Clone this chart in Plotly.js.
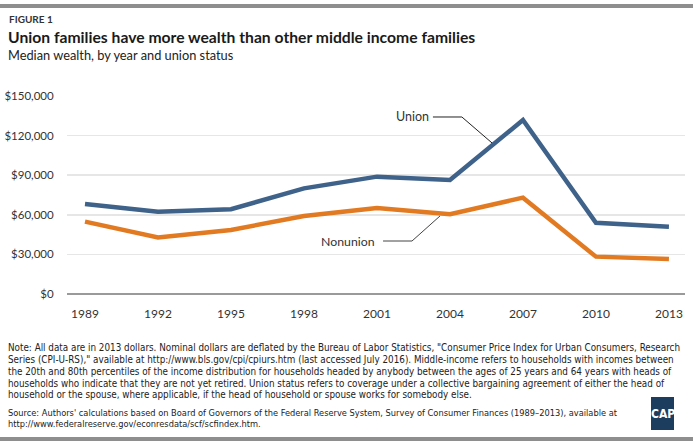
<!DOCTYPE html>
<html>
<head>
<meta charset="utf-8">
<script src="https://cdn.plot.ly/plotly-3.0.1.min.js"></script>
<style>
  html, body { margin: 0; padding: 0; background: #fff; }
  #chart { width: 693px; height: 445px; }
</style>
</head>
<body>
<div id="chart"></div>
<script>
// ---- Data ----
var years = [1989, 1992, 1995, 1998, 2001, 2004, 2007, 2010, 2013];
var unionWealth = [68200, 62400, 64200, 80000, 88900, 86400, 131800, 54000, 51000];
var nonunionWealth = [54800, 42900, 48500, 59100, 65100, 60400, 73000, 28300, 26500];
var yTickVals = [0, 30000, 60000, 90000, 120000, 150000];
var yTickText = ["$0", "$30,000", "$60,000", "$90,000", "$120,000", "$150,000"];
var xTickVals = years;
var xTickText = ["1989", "1992", "1995", "1998", "2001", "2004", "2007", "2010", "2013"];

var figureLabel = "FIGURE 1";
var titleText = "Union families have more wealth than other middle income families";
var subtitleText = "Median wealth, by year and union status";
var noteLines = [
  "Note: All data are in 2013 dollars. Nominal dollars are deflated by the Bureau of Labor Statistics, \"Consumer Price Index for Urban Consumers, Research",
  "Series (CPI-U-RS),\" available at http://www.bls.gov/cpi/cpiurs.htm (last accessed July 2016). Middle-income refers to households with incomes between",
  "the 20th and 80th percentiles of the income distribution for households headed by anybody between the ages of 25 years and 64 years with heads of",
  "households who indicate that they are not yet retired. Union status refers to coverage under a collective bargaining agreement of either the head of",
  "household or the spouse, where applicable, if the head of household or spouse works for somebody else."
];
var sourceLines = [
  "Source: Authors' calculations based on Board of Governors of the Federal Reserve System, Survey of Consumer Finances (1989–2013), available at",
  "http://www.federalreserve.gov/econresdata/scf/scfindex.htm."
];

// ---- Layout helpers (pixel -> paper) ----
var W = 693, H = 445;
var M = {l: 67, r: 8, t: 96, b: 151};
var PW = W - M.l - M.r, PH = H - M.t - M.b;
function px(x) { return (x - M.l) / PW; }
function py(y) { return (H - M.b - y) / PH; }

var lato = "Lato, sans-serif";
var narrow = "'Liberation Sans Narrow', 'DejaVu Sans Condensed', sans-serif";

var traces = [
  {x: years, y: unionWealth, type: 'scatter', mode: 'lines', name: 'Union',
   line: {color: '#3e6289', width: 4.5, shape: 'linear'}, hoverinfo: 'skip'},
  {x: years, y: nonunionWealth, type: 'scatter', mode: 'lines', name: 'Nonunion',
   line: {color: '#e27a22', width: 4.5, shape: 'linear'}, hoverinfo: 'skip'}
];

var annotations = [
  {xref: 'x', yref: 'y', x: 2003.2, y: 134100, text: 'Union', showarrow: false,
   xanchor: 'right', yanchor: 'middle', font: {family: lato, size: 12.5, color: '#333'}},
  {xref: 'x', yref: 'y', x: 2001.0, y: 40150, text: 'Nonunion', showarrow: false,
   xanchor: 'right', yanchor: 'middle', font: {family: lato, size: 12.3, color: '#333'}},
  {xref: 'paper', yref: 'paper', x: px(8), y: py(19.5), text: '<b>' + figureLabel + '</b>', showarrow: false,
   xanchor: 'left', yanchor: 'middle', borderpad: 0, font: {family: lato, size: 10, color: '#333'}},
  {xref: 'paper', yref: 'paper', x: px(7), y: py(37), text: '<b>' + titleText + '</b>', showarrow: false,
   xanchor: 'left', yanchor: 'middle', borderpad: 0, font: {family: lato, size: 15.7, color: '#1a1a1a'}},
  {xref: 'paper', yref: 'paper', x: px(7), y: py(55), text: subtitleText, showarrow: false,
   xanchor: 'left', yanchor: 'middle', borderpad: 0, font: {family: lato, size: 12.8, color: '#222'}},
  {xref: 'paper', yref: 'paper', x: px(662.5), y: py(414), text: '<b>CAP</b>', showarrow: false,
   xanchor: 'center', yanchor: 'middle', borderpad: 0, font: {family: narrow, size: 12, color: '#fff'}}
];
noteLines.forEach(function (t, i) {
  annotations.push({xref: 'paper', yref: 'paper', x: px(7), y: py(347 + 12 * i), text: t, showarrow: false,
    xanchor: 'left', yanchor: 'middle', borderpad: 0, font: {family: narrow, size: 9.8, color: '#222'}});
});
sourceLines.forEach(function (t, i) {
  annotations.push({xref: 'paper', yref: 'paper', x: px(7), y: py(412 + 11.5 * i), text: t, showarrow: false,
    xanchor: 'left', yanchor: 'middle', borderpad: 0, font: {family: narrow, size: 9.2, color: '#222'}});
});

var layout = {
  width: W, height: H,
  margin: M,
  showlegend: false,
  paper_bgcolor: '#fff', plot_bgcolor: '#fff',
  font: {family: lato, color: '#333'},
  xaxis: {
    range: [1988.26, 2013.66], tickvals: xTickVals, ticktext: xTickText,
    showgrid: false, zeroline: false, showline: false,
    ticks: 'outside', ticklen: 9, tickcolor: 'rgba(0,0,0,0)',
    tickfont: {family: lato, size: 12, color: '#333'}
  },
  yaxis: {
    range: [0, 150000], tickvals: yTickVals, ticktext: yTickText,
    showgrid: true, gridcolor: '#e6e6e6', gridwidth: 1.5,
    zeroline: true, zerolinecolor: '#9a9a9a', zerolinewidth: 1.5,
    showline: false,
    ticks: 'outside', ticklen: 10, tickcolor: 'rgba(0,0,0,0)',
    tickfont: {family: lato, size: 11.5, color: '#333'}
  },
  shapes: [
    {type: 'rect', xref: 'paper', yref: 'paper', x0: px(0), x1: px(W), y0: py(8), y1: py(4),
     fillcolor: '#8e8e8e', line: {width: 0}, layer: 'above'},
    {type: 'rect', xref: 'paper', yref: 'paper', x0: px(0), x1: px(W), y0: py(441), y1: py(437),
     fillcolor: '#8e8e8e', line: {width: 0}, layer: 'above'},
    {type: 'rect', xref: 'paper', yref: 'paper', x0: px(651), x1: px(674), y0: py(430), y1: py(397),
     fillcolor: '#1d3d5e', line: {width: 0}, layer: 'above'},
    {type: 'path', xref: 'x', yref: 'y', path: 'M 2003.3 134100 L 2004.49 134100 L 2005.73 114400',
     line: {color: '#222', width: 1}},
    {type: 'path', xref: 'x', yref: 'y', path: 'M 2001.25 40150 L 2002.44 40150 L 2003.59 59100',
     line: {color: '#444', width: 1}}
  ],
  annotations: annotations
};

Plotly.newPlot('chart', traces, layout, {staticPlot: true, displayModeBar: false});
</script>
</body>
</html>
